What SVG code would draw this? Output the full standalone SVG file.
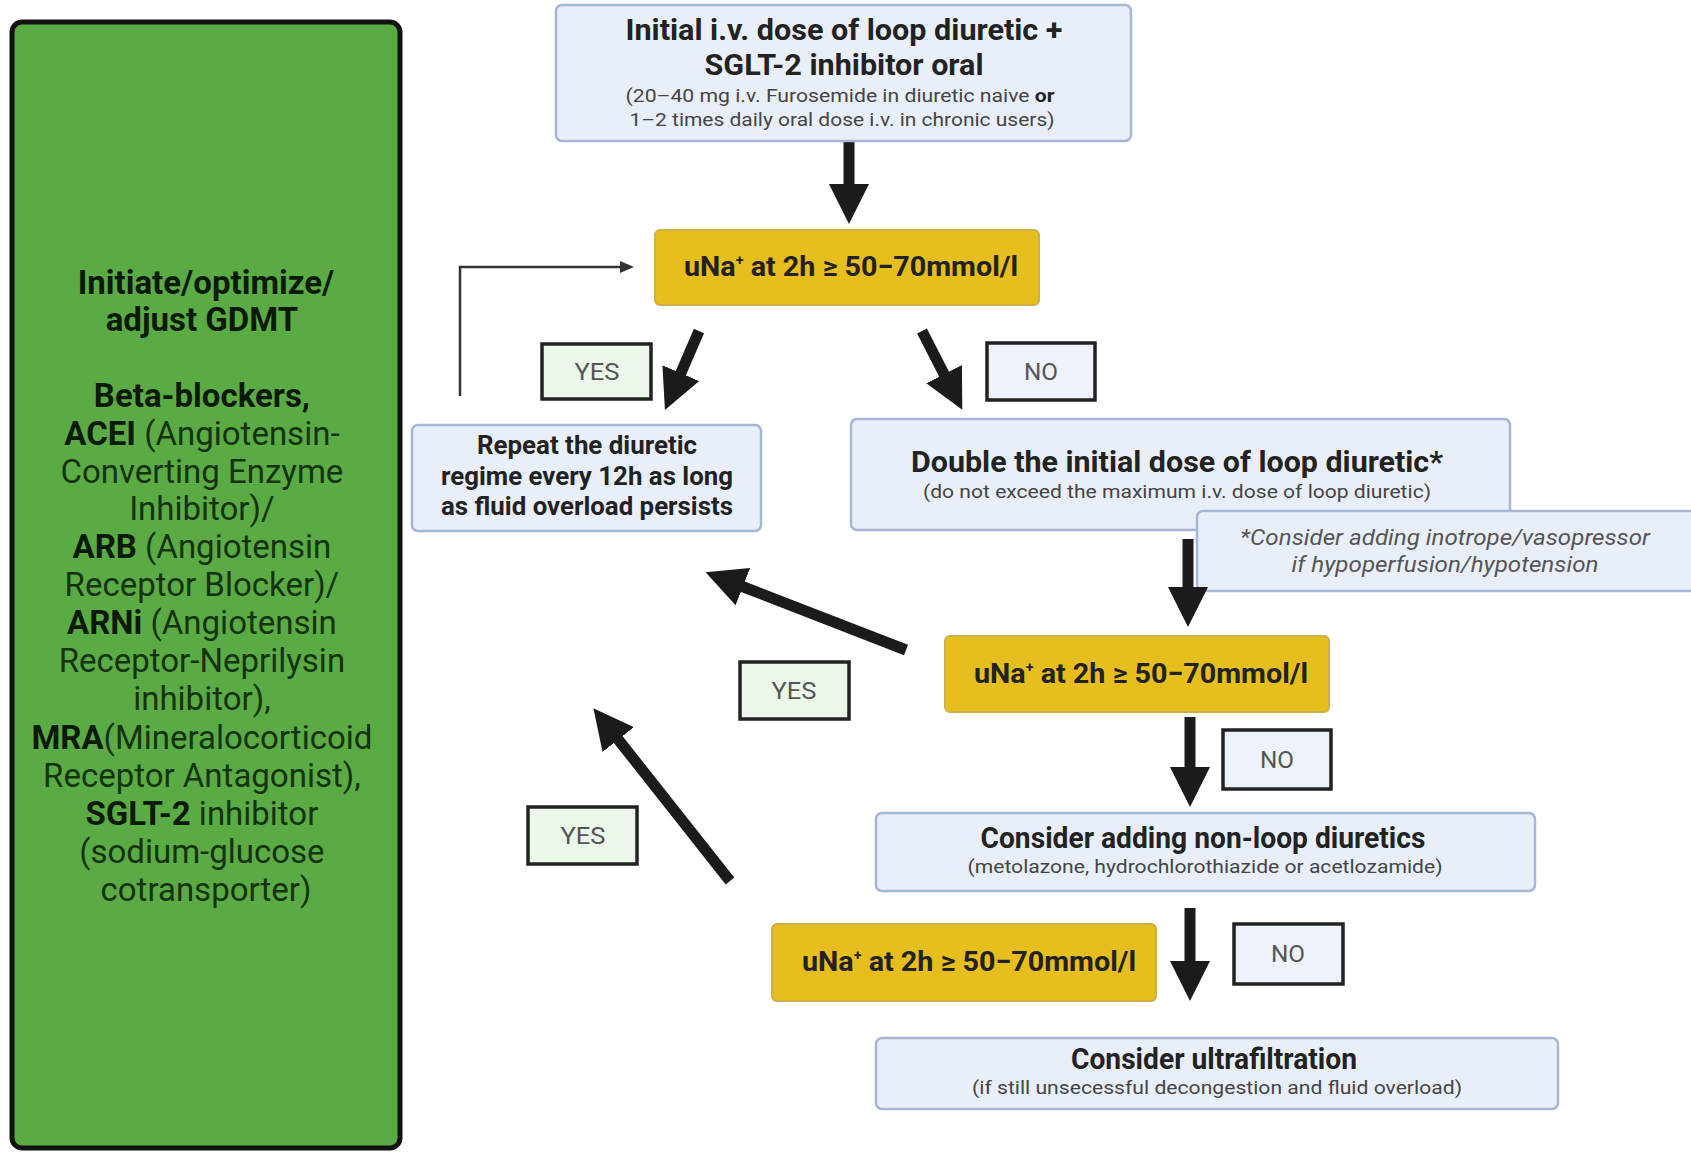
<svg xmlns="http://www.w3.org/2000/svg" width="1691" height="1153" viewBox="0 0 1691 1153">
<style>
.bg{fill:#ffffff}
.green{fill:#5bab45;stroke:#121212;stroke-width:5}
.gt{font-family:Roboto,"Liberation Sans",sans-serif;font-size:33px;fill:#15330f;text-anchor:middle}
.gt .b{font-weight:bold;fill:#0b1a07}
.box{fill:#e9eff9;stroke:#a7b6d5;stroke-width:2.5}
.yel{fill:#e6be1e;stroke:#cfae4a;stroke-width:2}
.yes{fill:#eaf7e9;stroke:#222;stroke-width:3.5}
.no{fill:#eef2fa;stroke:#222;stroke-width:3.5}
.t{font-family:Roboto,"Liberation Sans",sans-serif;text-anchor:middle;fill:#222}
.h{font-weight:bold;font-size:29px}
.hm{font-weight:bold;font-size:25px}
.s{font-size:19px;fill:#444}
.n{font-style:italic;font-size:22px;fill:#555}
.lab{font-size:24px;fill:#555}
.u{font-weight:bold;font-size:28px}
.arr{stroke:#1b1b1b;stroke-width:11;fill:none;marker-end:url(#big)}
.thin{stroke:#333;stroke-width:2.5;fill:none;marker-end:url(#small)}
</style>
<defs>
<marker id="big" markerUnits="userSpaceOnUse" viewBox="0 0 40 40" markerWidth="40" markerHeight="40" refX="2" refY="20" orient="auto">
<path d="M0,0 L40,20 L0,40 z" fill="#1b1b1b"/>
</marker>
<marker id="small" markerUnits="userSpaceOnUse" viewBox="0 0 14 14" markerWidth="14" markerHeight="14" refX="1" refY="7" orient="auto">
<path d="M0,1 L14,7 L0,13 z" fill="#333"/>
</marker>
</defs>
<rect class="bg" x="0" y="0" width="1691" height="1153"/>

<g id="gdmt">
<rect class="green" x="12" y="22" width="388" height="1126" rx="10"/>
<text class="gt"><tspan x="206" y="294" class="b">Initiate/optimize/</tspan><tspan x="206" y="331" class="b">adjust GDMT</tspan>
<tspan x="206" y="407" class="b">Beta-blockers,</tspan>
<tspan x="206" y="445"><tspan class="b">ACEI</tspan> (Angiotensin-</tspan>
<tspan x="206" y="483">Converting Enzyme</tspan>
<tspan x="206" y="520">Inhibitor)/</tspan>
<tspan x="206" y="558"><tspan class="b">ARB</tspan> (Angiotensin</tspan>
<tspan x="206" y="596">Receptor Blocker)/</tspan>
<tspan x="206" y="634"><tspan class="b">ARNi</tspan> (Angiotensin</tspan>
<tspan x="206" y="672">Receptor-Neprilysin</tspan>
<tspan x="206" y="710">inhibitor),</tspan>
<tspan x="206" y="749"><tspan class="b">MRA</tspan>(Mineralocorticoid</tspan>
<tspan x="206" y="787">Receptor Antagonist),</tspan>
<tspan x="206" y="825"><tspan class="b">SGLT-2</tspan> inhibitor</tspan>
<tspan x="206" y="863">(sodium-glucose</tspan>
<tspan x="206" y="901">cotransporter)</tspan></text>
</g>

<g id="connectors">
<path class="arr" d="M849,137 L849,186"/>
<path class="arr" d="M699,331 L680,375"/>
<path class="arr" d="M922,331 L945,376"/>
<path class="arr" d="M906,650 L741,586"/>
<path class="arr" d="M1190,717 L1190,769"/>
<path class="arr" d="M1190,908 L1190,963"/>
<path class="arr" d="M730,881 L617,738"/>
<path class="thin" d="M460,396 L460,267 L621,267"/>
</g>

<g id="start">
<rect class="box" x="556" y="5" width="575" height="136" rx="6"/>
<text class="t h" x="844" y="40" textLength="437" lengthAdjust="spacingAndGlyphs">Initial i.v. dose of loop diuretic +</text>
<text class="t h" x="844" y="75" textLength="279" lengthAdjust="spacingAndGlyphs">SGLT-2 inhibitor oral</text>
<text class="t s" x="840" y="102" textLength="429" lengthAdjust="spacingAndGlyphs">(20–40 mg i.v. Furosemide in diuretic naive <tspan font-weight="bold" fill="#222">or</tspan></text>
<text class="t s" x="842" y="126" textLength="425" lengthAdjust="spacingAndGlyphs">1–2 times daily oral dose i.v. in chronic users)</text>
</g>

<g id="check1">
<rect class="yel" x="655" y="230" width="384" height="75" rx="5"/>
<text class="t u" x="851" y="276" textLength="334" lengthAdjust="spacingAndGlyphs">uNa<tspan font-size="14" dy="-11">+</tspan><tspan dy="11"> at 2h ≥ 50−70mmol/l</tspan></text>
</g>

<g id="yes1">
<rect class="yes" x="542" y="344" width="109" height="55"/>
<text class="t lab" x="597" y="380" textLength="45" lengthAdjust="spacingAndGlyphs">YES</text>
</g>

<g id="no1">
<rect class="no" x="987" y="343" width="108" height="57"/>
<text class="t lab" x="1041" y="380" textLength="34" lengthAdjust="spacingAndGlyphs">NO</text>
</g>

<g id="repeat">
<rect class="box" x="412" y="425" width="349" height="106" rx="6"/>
<text class="t hm" x="587" y="454" textLength="220" lengthAdjust="spacingAndGlyphs">Repeat the diuretic</text>
<text class="t hm" x="587" y="485" textLength="292" lengthAdjust="spacingAndGlyphs">regime every 12h as long</text>
<text class="t hm" x="587" y="515" textLength="292" lengthAdjust="spacingAndGlyphs">as fluid overload persists</text>
</g>

<g id="double">
<rect class="box" x="851" y="419" width="659" height="111" rx="6"/>
<text class="t h" x="1177" y="472" textLength="532" lengthAdjust="spacingAndGlyphs">Double the initial dose of loop diuretic*</text>
<text class="t s" x="1177" y="498" textLength="508" lengthAdjust="spacingAndGlyphs">(do not exceed the maximum i.v. dose of loop diuretic)</text>
</g>

<g id="note">
<rect class="box" x="1197" y="511" width="504" height="80" rx="6"/>
<text class="t n" x="1445" y="545" textLength="410" lengthAdjust="spacingAndGlyphs">*Consider adding inotrope/vasopressor</text>
<text class="t n" x="1445" y="572" textLength="307" lengthAdjust="spacingAndGlyphs">if hypoperfusion/hypotension</text>
</g>

<g id="connector-double-check2">
<path class="arr" d="M1188,539 L1188,589"/>
</g>

<g id="check2">
<rect class="yel" x="945" y="636" width="384" height="76" rx="5"/>
<text class="t u" x="1141" y="683" textLength="334" lengthAdjust="spacingAndGlyphs">uNa<tspan font-size="14" dy="-11">+</tspan><tspan dy="11"> at 2h ≥ 50−70mmol/l</tspan></text>
</g>

<g id="yes2">
<rect class="yes" x="740" y="662" width="109" height="57"/>
<text class="t lab" x="794" y="699" textLength="45" lengthAdjust="spacingAndGlyphs">YES</text>
</g>

<g id="no2">
<rect class="no" x="1223" y="730" width="108" height="59"/>
<text class="t lab" x="1277" y="768" textLength="34" lengthAdjust="spacingAndGlyphs">NO</text>
</g>

<g id="nonloop">
<rect class="box" x="876" y="813" width="659" height="78" rx="6"/>
<text class="t h" x="1203" y="848" font-size="27" textLength="445" lengthAdjust="spacingAndGlyphs">Consider adding non-loop diuretics</text>
<text class="t s" x="1205" y="873" textLength="475" lengthAdjust="spacingAndGlyphs">(metolazone, hydrochlorothiazide or acetlozamide)</text>
</g>

<g id="yes3">
<rect class="yes" x="528" y="807" width="109" height="57"/>
<text class="t lab" x="583" y="844" textLength="45" lengthAdjust="spacingAndGlyphs">YES</text>
</g>

<g id="check3">
<rect class="yel" x="772" y="924" width="384" height="77" rx="5"/>
<text class="t u" x="969" y="971" textLength="334" lengthAdjust="spacingAndGlyphs">uNa<tspan font-size="14" dy="-11">+</tspan><tspan dy="11"> at 2h ≥ 50−70mmol/l</tspan></text>
</g>

<g id="no3">
<rect class="no" x="1234" y="924" width="109" height="60"/>
<text class="t lab" x="1288" y="962" textLength="34" lengthAdjust="spacingAndGlyphs">NO</text>
</g>

<g id="ultra">
<rect class="box" x="876" y="1038" width="682" height="71" rx="6"/>
<text class="t h" x="1214" y="1069" font-size="27" textLength="286" lengthAdjust="spacingAndGlyphs">Consider ultrafiltration</text>
<text class="t s" x="1217" y="1094" textLength="490" lengthAdjust="spacingAndGlyphs">(if still unsecessful decongestion and fluid overload)</text>
</g>
</svg>
